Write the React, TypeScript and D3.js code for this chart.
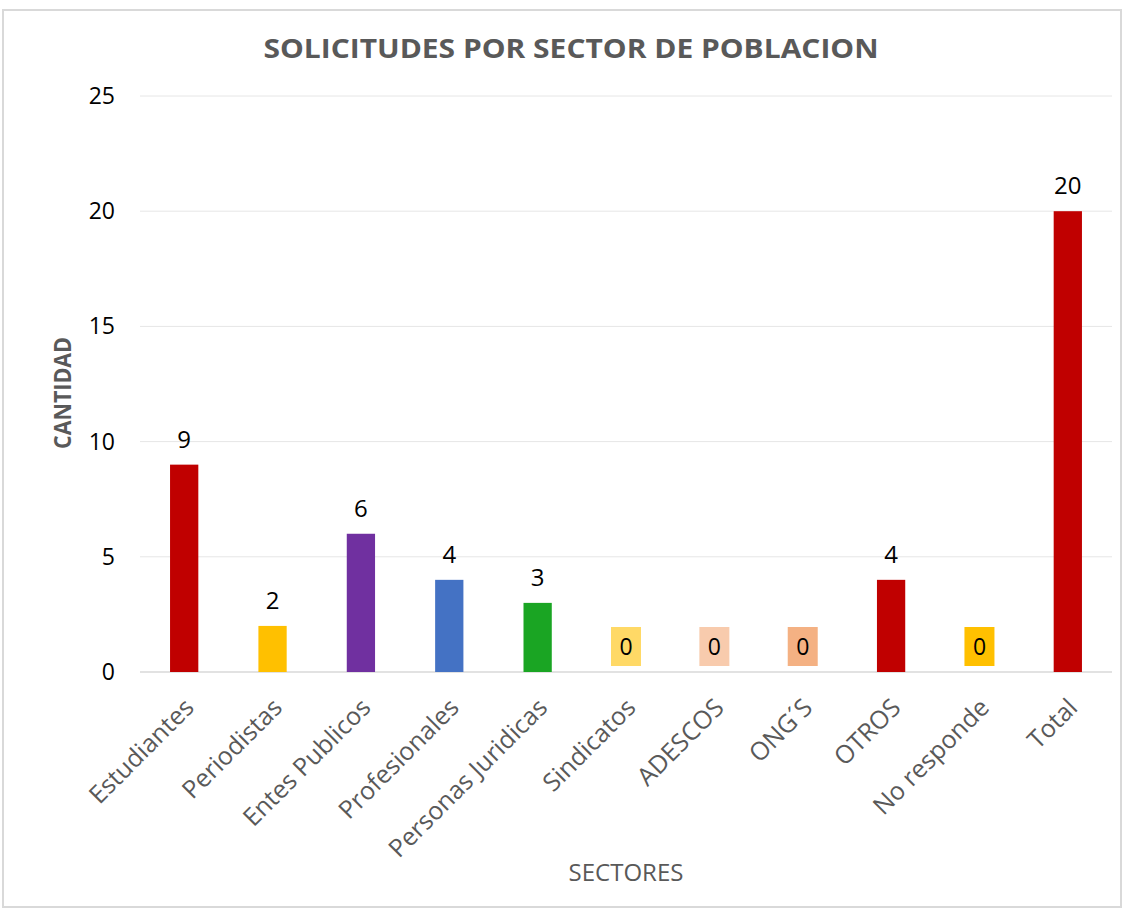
import React from 'react'
import * as d3 from 'd3'

const categories = ['Estudiantes', 'Periodistas', 'Entes Publicos', 'Profesionales', 'Personas Juridicas', 'Sindicatos', 'ADESCOS', 'ONG´S', 'OTROS', 'No responde', 'Total']
const values = [9, 2, 6, 4, 3, 0, 0, 0, 4, 0, 20]
const barColors = ['#C00000', '#FFC000', '#7030A0', '#4472C4', '#1AA523', '#FFD966', '#F8CBAD', '#F4B183', '#C00000', '#FFC000', '#C00000']
const yTicks = [0, 5, 10, 15, 20, 25]

const W = 1126
const H = 911
const margin = {top: 96, right: 14, bottom: 239, left: 140}
const font = "'Open Sans', sans-serif"

const App = () => {
  const x = d3.scaleBand<string>()
    .domain(categories)
    .range([margin.left, W - margin.right])
    .paddingInner(0.68)
    .paddingOuter(0.34)
  const y = d3.scaleLinear().domain([0, 25]).range([H - margin.bottom, margin.top])
  const bw = x.bandwidth()

  return (
    <svg width={W} height={H} style={{position: 'absolute', left: 0, top: 0, background: '#fff'}}>
      <rect x={3} y={10} width={W - 8} height={H - 14} fill="#fff" stroke="#d9d9d9" strokeWidth={2} />
      <text x={571} y={58} textAnchor="middle" fontFamily={font} fontWeight="bold" fontSize={27} fill="#595959"
        textLength={615} lengthAdjust="spacingAndGlyphs">SOLICITUDES POR SECTOR DE POBLACION</text>

      {yTicks.map(t => (
        <g key={t}>
          <line x1={margin.left} x2={W - margin.right} y1={y(t)} y2={y(t)} stroke={t === 0 ? '#d9d9d9' : '#e6e6e6'} strokeWidth={t === 0 ? 1.5 : 1} />
          <text x={115} y={y(t)} dy="0.35em" textAnchor="end" fontFamily={font} fontSize={23} fill="#000">{t}</text>
        </g>
      ))}

      <text transform={`translate(71,393) rotate(-90)`} textAnchor="middle" fontFamily={font} fontWeight="bold" fontSize={23} fill="#595959"
        textLength={112} lengthAdjust="spacingAndGlyphs">CANTIDAD</text>

      {categories.map((c, i) => {
        const cx = (x(c) as number) + bw / 2
        const v = values[i]
        return (
          <g key={c}>
            {v > 0 ? (
              <>
                <rect x={x(c)} y={y(v)} width={bw} height={y(0) - y(v)} fill={barColors[i]} />
                <text x={cx} y={y(v) - 17} textAnchor="middle" fontFamily={font} fontSize={24} fill="#000">{v}</text>
              </>
            ) : (
              <>
                <rect x={cx - 15} y={y(0) - 45} width={30} height={39} fill={barColors[i]} />
                <text x={cx} y={y(0) - 25} dy="0.35em" textAnchor="middle" fontFamily={font} fontSize={23} fill="#000">{v}</text>
              </>
            )}
            <text transform={`translate(${cx + 5},${y(0) + 31}) rotate(-45)`} textAnchor="end" dy="0.35em"
              fontFamily={font} fontSize={25} fill="#595959">{c}</text>
          </g>
        )
      })}

      <text x={626} y={881} textAnchor="middle" fontFamily={font} fontSize={24} fill="#595959">SECTORES</text>
    </svg>
  )
}

export default App
